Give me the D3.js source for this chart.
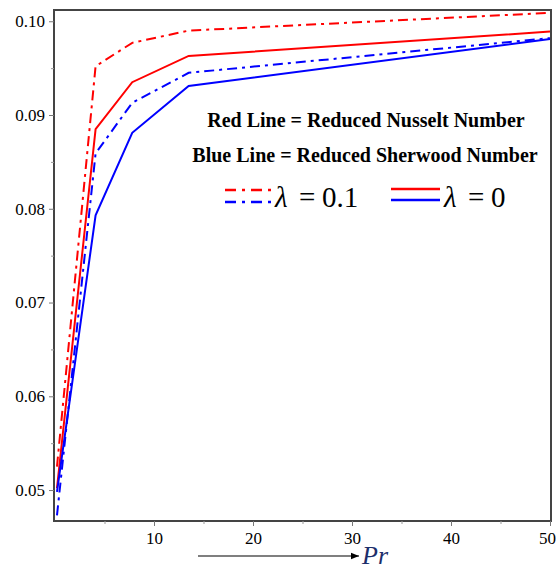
<!DOCTYPE html>
<html>
<head>
<meta charset="utf-8">
<script src="https://cdn.jsdelivr.net/npm/d3@7"></script>
<style>
  body { margin: 0; background: #fff; }
  svg { display: block; }
</style>
</head>
<body>
<svg id="chart" width="557" height="569"></svg>
<script>
// ---- data ----
const prValues = [0.2, 4.1, 7.8, 13.5, 50];
const nusseltLam01 = [0.0525, 0.0952, 0.0977, 0.0990, 0.1009];   // red dash-dot
const nusseltLam0  = [0.0502, 0.0885, 0.0935, 0.0963, 0.0989];   // red solid
const sherwoodLam01 = [0.0473, 0.0859, 0.0913, 0.0945, 0.0982];  // blue dash-dot
const sherwoodLam0  = [0.0498, 0.0793, 0.0881, 0.0931, 0.0981];  // blue solid
const yTicks = [0.05, 0.06, 0.07, 0.08, 0.09, 0.10];
const xTicks = [10, 20, 30, 40, 50];

const series = [
  { values: nusseltLam01, color: "#ff0000", dash: "10,5,3,5" },
  { values: nusseltLam0, color: "#ff0000", dash: null },
  { values: sherwoodLam01, color: "#0000ff", dash: "10,5,3,5" },
  { values: sherwoodLam0, color: "#0000ff", dash: null }
];

const svg = d3.select("#chart");
const mLeft = 54, mRight = 551, mTop = 10, mBottom = 521;
const serif = "'Liberation Serif', 'Times New Roman', serif";

const x = d3.scaleLinear().domain([0, 50]).range([55, 550]);
const y = d3.scaleLinear().domain([0.0467, 0.1012]).range([mBottom, mTop]);

// frame
svg.append("rect")
  .attr("x", mLeft).attr("y", mTop)
  .attr("width", mRight - mLeft).attr("height", mBottom - mTop)
  .attr("fill", "none").attr("stroke", "#444").attr("stroke-width", 2);

// y axis
const yAxis = svg.append("g")
  .attr("transform", `translate(${mLeft},0)`)
  .call(d3.axisLeft(y).tickValues(yTicks).tickFormat(d3.format(".2f")).tickSize(5).tickSizeOuter(0));
yAxis.select(".domain").remove();
yAxis.selectAll("text")
  .attr("font-family", serif)
  .attr("font-size", 17).attr("fill", "#000").attr("dx", "-1");
yAxis.selectAll("line").attr("stroke", "#777");
svg.append("g")
  .attr("transform", `translate(${mLeft},0)`)
  .call(d3.axisLeft(y).tickValues(d3.range(0.055, 0.1, 0.01)).tickFormat("").tickSize(3).tickSizeOuter(0))
  .call(g => g.select(".domain").remove())
  .selectAll("line").attr("stroke", "#999");

// x axis
const xAxis = svg.append("g")
  .attr("transform", `translate(0,${mBottom})`)
  .call(d3.axisBottom(x).tickValues(xTicks).tickSize(5).tickSizeOuter(0));
xAxis.select(".domain").remove();
xAxis.selectAll("text")
  .attr("font-family", serif)
  .attr("font-size", 17).attr("fill", "#000").attr("dy", "0.9em")
  .attr("dx", d => d === 50 ? -3 : 0);
xAxis.selectAll("line").attr("stroke", "#777");
svg.append("g")
  .attr("transform", `translate(0,${mBottom})`)
  .call(d3.axisBottom(x).tickValues([5, 15, 25, 35, 45]).tickFormat("").tickSize(3).tickSizeOuter(0))
  .call(g => g.select(".domain").remove())
  .selectAll("line").attr("stroke", "#999");

// lines
const line = d3.line().x((d, i) => x(prValues[i])).y(d => y(d));
svg.append("g").selectAll("path")
  .data(series)
  .join("path")
  .attr("d", d => line(d.values))
  .attr("fill", "none")
  .attr("stroke", d => d.color)
  .attr("stroke-width", 2)
  .attr("stroke-dasharray", d => d.dash);

// legend text
svg.append("text").attr("x", 366).attr("y", 127).attr("text-anchor", "middle")
  .attr("font-family", serif).attr("font-weight", "bold").attr("font-size", 20)
  .text("Red Line = Reduced Nusselt Number");
svg.append("text").attr("x", 365).attr("y", 162).attr("text-anchor", "middle")
  .attr("font-family", serif).attr("font-weight", "bold").attr("font-size", 20)
  .text("Blue Line = Reduced Sherwood Number");

// legend samples
const samples = [
  { x1: 225, x2: 272, y: 190, color: "#ff0000", dash: "11,6,3,6" },
  { x1: 225, x2: 272, y: 202, color: "#0000ff", dash: "11,6,3,6" },
  { x1: 391, x2: 440, y: 189, color: "#ff0000", dash: null },
  { x1: 391, x2: 440, y: 200, color: "#0000ff", dash: null }
];
svg.append("g").selectAll("line").data(samples).join("line")
  .attr("x1", d => d.x1).attr("x2", d => d.x2)
  .attr("y1", d => d.y).attr("y2", d => d.y)
  .attr("stroke", d => d.color).attr("stroke-width", 2.5)
  .attr("stroke-dasharray", d => d.dash);

const lam = [{ x: 275, label: "0.1" }, { x: 444, label: "0" }];
lam.forEach(d => {
  const g = svg.append("g").attr("font-family", serif).attr("font-size", 29);
  g.append("text").attr("x", d.x).attr("y", 207).attr("font-style", "italic").text("λ");
  g.append("text").attr("x", d.x + 24).attr("y", 207).text("=");
  g.append("text").attr("x", d.x + 47).attr("y", 207).text(d.label);
});

// x label with arrow
svg.append("defs").append("marker")
  .attr("id", "arrow").attr("viewBox", "0 0 10 10")
  .attr("refX", 10).attr("refY", 5)
  .attr("markerWidth", 7).attr("markerHeight", 7).attr("orient", "auto")
  .append("path").attr("d", "M0,1 L10,5 L0,9 Z").attr("fill", "#000");
svg.append("line").attr("x1", 198).attr("x2", 359).attr("y1", 556).attr("y2", 556)
  .attr("stroke", "#000").attr("stroke-width", 1.2).attr("marker-end", "url(#arrow)");
svg.append("text").attr("x", 362).attr("y", 564)
  .attr("font-family", serif).attr("font-style", "italic").attr("font-size", 26)
  .attr("fill", "#1c2e6b").text("Pr");
</script>
</body>
</html>
